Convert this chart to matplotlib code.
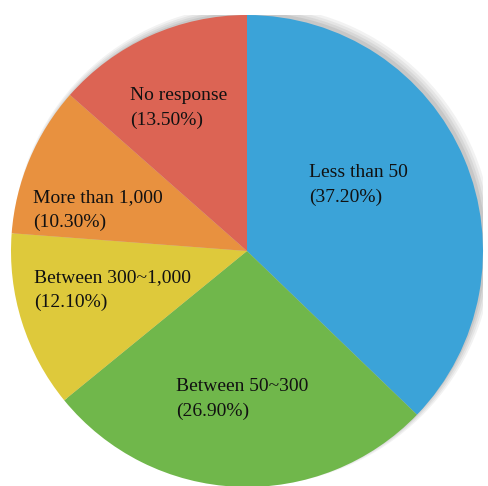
import matplotlib
matplotlib.use("Agg")
import matplotlib.pyplot as plt
from matplotlib.patches import Circle

# ---------------------------------------------------------
# DATA
# ---------------------------------------------------------
categorie = ["Less than 50", "Between 50~300", "Between 300~1,000",
             "More than 1,000", "No response"]
percentuali = [37.2, 26.9, 12.1, 10.3, 13.5]
colori = ["#3ba3d8", "#70b74b", "#dec93b", "#e8913f", "#dc6454"]

# posizione delle etichette (coordinate dati, centro del blocco)
pos_etichette = [(0.263, 0.28), (-0.301, -0.627), (-0.903, -0.165),
                 (-0.907, 0.174), (-0.496, 0.606)]

# ---------------------------------------------------------
# GRAFICO
# ---------------------------------------------------------
W, H = 488, 486
fig = plt.figure(figsize=(W / 100, H / 100), dpi=100)
fig.patch.set_facecolor("white")

cx, cy, r = 247, 251, 236
ax = fig.add_axes([(cx - r) / W, (H - cy - r) / H, 2 * r / W, 2 * r / H])

# ombra leggera
for i, a in enumerate([0.05, 0.05, 0.06, 0.07]):
    sh = Circle((0.012 + 0.004 * (3 - i), 0.012 + 0.004 * (3 - i)),
                1.0 + 0.006 * (3 - i), color="black", alpha=a, lw=0, zorder=0)
    ax.add_patch(sh)

ax.pie(percentuali, colors=colori, startangle=90, counterclock=False,
       radius=1.0, wedgeprops=dict(linewidth=0), frame=True)
ax.set_xlim(-1, 1)
ax.set_ylim(-1, 1)
ax.set_aspect("auto")
ax.axis("off")

for nome, val, (x, y) in zip(categorie, percentuali, pos_etichette):
    ax.text(x, y, f"{nome}\n({val:.2f}%)", ha="left", va="center",
            fontsize=14, family="Liberation Serif", color="#111111",
            linespacing=1.6)

fig.savefig("out.png", dpi=100)
